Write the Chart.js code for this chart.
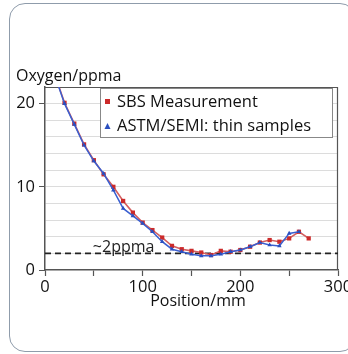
<!DOCTYPE html>
<html>
<head>
<meta charset="utf-8">
<script src="https://cdn.jsdelivr.net/npm/chart.js@4.4.1/dist/chart.umd.min.js"></script>
<style>
    body { margin: 0; background: #fff; }
    #marco {
        position: absolute; left: 9px; top: 3px; width: 345px; height: 347px;
        border: 1px solid #8f9cab; border-radius: 16px;
    }
    #graficoOxigeno { position: absolute; left: 0; top: 0; }
</style>
</head>
<body>
<div id="marco"></div>
<canvas id="graficoOxigeno" width="348" height="354"></canvas>
<script>
const posiciones = [10, 20, 30, 40, 50, 60, 70, 80, 90, 100, 110, 120, 130, 140, 150, 160, 170, 180, 190, 200, 210, 220, 230, 240, 250, 260, 270];
const sbsValores = [23.5, 20.1, 17.6, 15.1, 13.2, 11.5, 10.0, 8.3, 6.9, 5.7, 4.8, 3.9, 2.9, 2.5, 2.3, 2.1, 1.8, 2.3, 2.2, 2.4, 2.8, 3.3, 3.6, 3.4, 3.8, 4.6, 3.8];
const astmValores = [23.4, 20.0, 17.5, 15.0, 13.1, 11.6, 9.6, 7.4, 6.5, 5.6, 4.6, 3.4, 2.5, 2.2, 1.9, 1.7, 1.7, 1.9, 2.2, 2.4, 2.8, 3.3, 3.0, 2.9, 4.4, 4.6];
const limiteX = [0, 300];
const limiteY = [2, 2];
const etiquetasX = [0, 100, 200, 300];
const etiquetasY = [0, 10, 20];

const FUENTE = '"Open Sans", sans-serif';
const rojo = '#cc2a2a';
const azul = '#2a4fbf';

const puntos = (xs, ys) => ys.map((v, i) => ({ x: xs[i], y: v }));

const extras = {
    id: 'extras',
    beforeDatasetsDraw(chart) {
        const { ctx, chartArea: a } = chart;
        ctx.save();
        ctx.strokeStyle = '#555';
        ctx.lineWidth = 1.2;
        ctx.beginPath();
        ctx.moveTo(a.left, a.top + 0.5);
        ctx.lineTo(a.right - 0.5, a.top + 0.5);
        ctx.lineTo(a.right - 0.5, a.bottom);
        ctx.stroke();
        ctx.restore();
    },
    afterDatasetsDraw(chart) {
        const { ctx, scales } = chart;
        ctx.save();
        // texto de la linea de 2 ppma
        ctx.fillStyle = '#222';
        ctx.font = '16px ' + FUENTE;
        ctx.textBaseline = 'middle';
        ctx.textAlign = 'left';
        ctx.fillText('~2ppma', scales.x.getPixelForValue(49), scales.y.getPixelForValue(2.7));

        // leyenda
        ctx.fillStyle = '#fff';
        ctx.strokeStyle = '#888';
        ctx.lineWidth = 1;
        ctx.fillRect(100, 88, 233, 50);
        ctx.strokeRect(100.5, 88.5, 232, 49);

        ctx.fillStyle = rojo;
        ctx.fillRect(105, 99, 5, 5);
        ctx.fillStyle = azul;
        ctx.beginPath();
        ctx.moveTo(107.5, 123);
        ctx.lineTo(110.5, 129);
        ctx.lineTo(104.5, 129);
        ctx.closePath();
        ctx.fill();

        ctx.fillStyle = '#111';
        ctx.font = '16.5px ' + FUENTE;
        ctx.fillText('SBS Measurement', 117, 102);
        ctx.fillText('ASTM/SEMI: thin samples', 117, 126);

        // titulos de ejes
        ctx.font = '16px ' + FUENTE;
        ctx.fillText('Oxygen/ppma', 16, 76);
        ctx.textAlign = 'center';
        ctx.fillText('Position/mm', 198, 301);
        ctx.restore();
    }
};

const config = {
    type: 'line',
    data: {
        datasets: [{
            label: 'ASTM/SEMI: thin samples',
            data: puntos(posiciones, astmValores),
            borderColor: '#3a5fd0',
            backgroundColor: azul,
            borderWidth: 1.5,
            pointStyle: 'triangle',
            pointRadius: 2.6,
            pointBorderWidth: 0,
            clip: 0,
            order: 1
        }, {
            label: 'SBS Measurement',
            data: puntos(posiciones, sbsValores),
            borderColor: '#d46060',
            backgroundColor: rojo,
            borderWidth: 1.6,
            pointStyle: 'rect',
            pointRadius: 3,
            pointBorderWidth: 0,
            clip: 0,
            order: 2
        }, {
            label: 'limite',
            data: puntos(limiteX, limiteY),
            borderColor: '#222',
            borderWidth: 1.6,
            borderDash: [6, 4],
            pointRadius: 0,
            order: 3
        }]
    },
    options: {
        responsive: false,
        animation: false,
        layout: { padding: { left: 0, top: 87, right: 10, bottom: 0 } },
        plugins: { legend: { display: false }, tooltip: { enabled: false } },
        scales: {
            x: {
                type: 'linear',
                min: 0, max: 300,
                afterFit(s) { s.height = 84; s.paddingLeft = 0; s.paddingRight = 0; },
                ticks: {
                    stepSize: 50,
                    maxRotation: 0,
                    autoSkip: false,
                    padding: 1,
                    color: '#111',
                    font: { family: FUENTE, size: 16.5 },
                    callback: v => etiquetasX.includes(v) ? String(v) : ''
                },
                grid: { drawOnChartArea: false, tickLength: 6, tickColor: '#555', tickWidth: 1.2 },
                border: { color: '#555', width: 1.5 }
            },
            y: {
                min: 0, max: 22,
                afterFit(s) { s.width = 45; s.paddingTop = 0; s.paddingBottom = 0; },
                ticks: {
                    stepSize: 2,
                    autoSkip: false,
                    padding: 4,
                    color: '#111',
                    font: { family: FUENTE, size: 16.5 },
                    callback: v => etiquetasY.includes(v) ? String(v) : ''
                },
                grid: {
                    tickLength: 6,
                    color: ctx => ctx.tick && ctx.tick.value > 0 && ctx.tick.value < 22 ? '#dcdcdc' : 'transparent',
                    tickColor: ctx => ctx.tick && etiquetasY.includes(ctx.tick.value) ? '#555' : 'transparent'
                },
                border: { color: '#555', width: 1.5 }
            }
        }
    },
    plugins: [extras]
};

new Chart(document.getElementById('graficoOxigeno'), config);
</script>
</body>
</html>
